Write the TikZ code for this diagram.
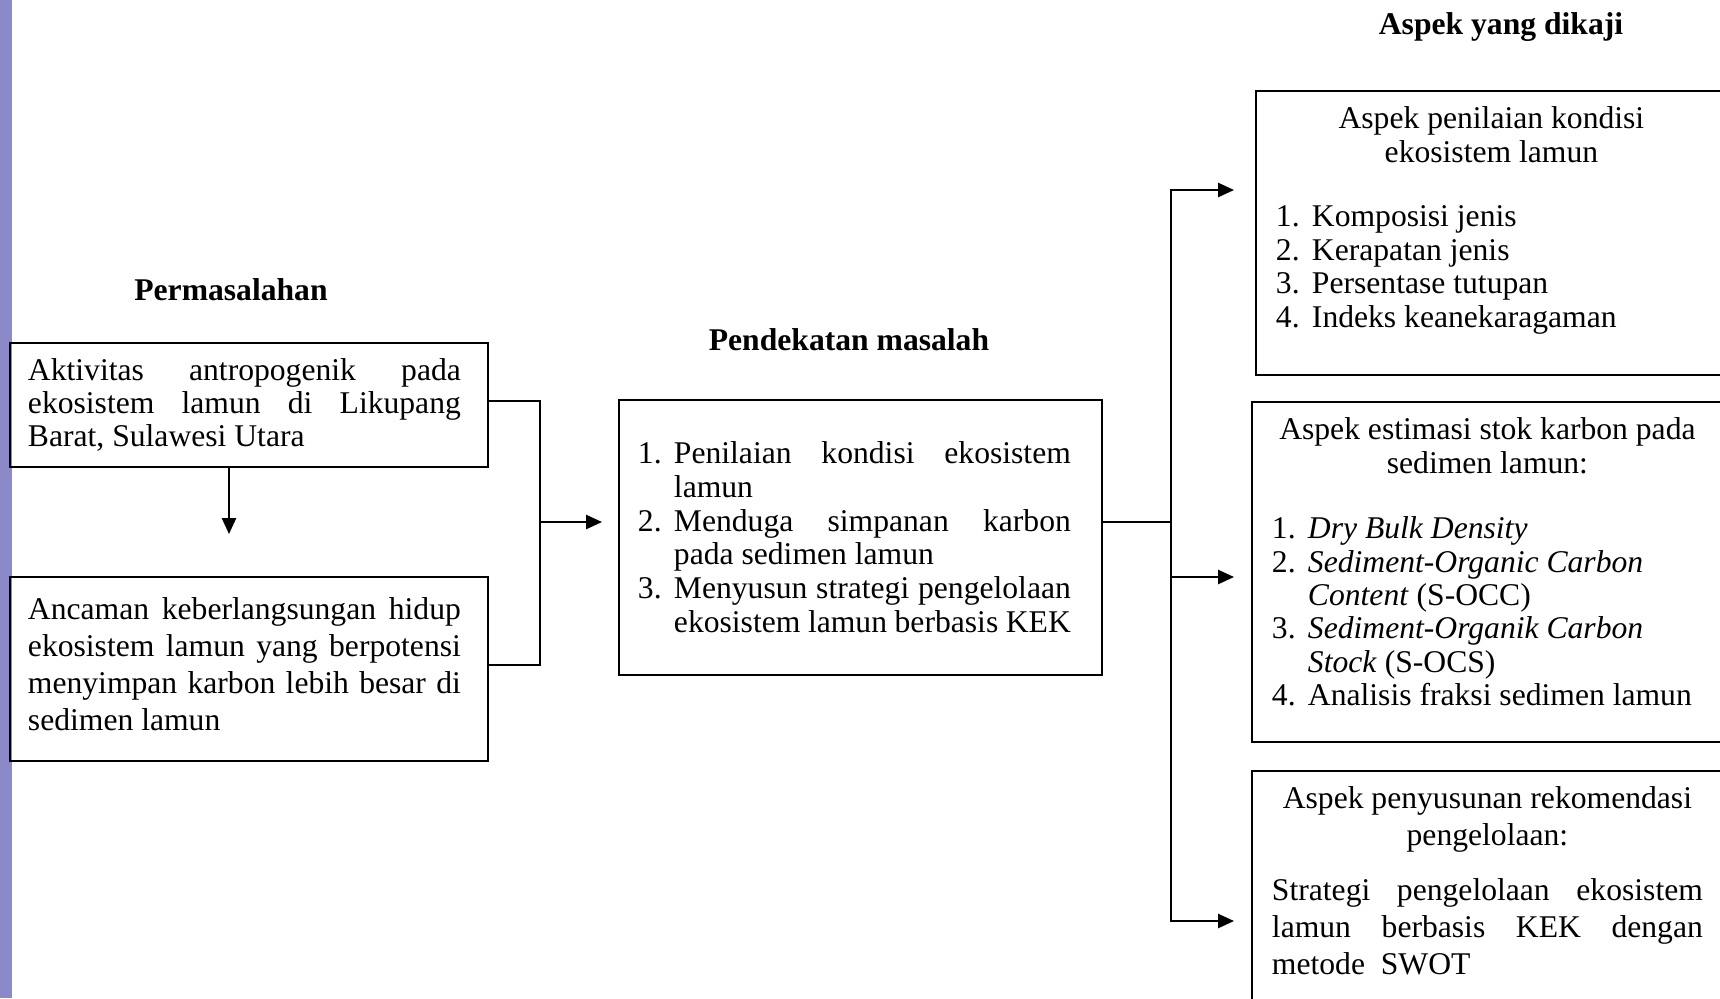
\documentclass[tikz,border=0pt]{standalone}
\usepackage{fontspec}
\setmainfont{Liberation Serif}
\usetikzlibrary{arrows.meta}
\definecolor{barpurple}{RGB}{140,137,200}
\newcommand{\numitem}[2]{\par\hangindent=0.72cm\hangafter=1\noindent\makebox[0.72cm][l]{#1}#2\par}
\newcommand{\boxend}[1]{\par\vspace{#1}\hrule height 0pt}
\hyphenpenalty=10000
\tolerance=10000

\begin{document}
\begin{tikzpicture}[
			x=0.02cm, y=-0.02cm,
			box/.style={draw=black, line width=1.1pt, inner xsep=0.36cm, inner ysep=0.2cm, align=justify, font=\fontsize{18pt}{18.8pt}\selectfont},
			aspekbox/.style={box, anchor=north west, text width=8.62cm, inner xsep=0.4cm, inner ysep=0.32cm},
			heading/.style={font=\fontsize{18pt}{20pt}\selectfont\bfseries},
			conn/.style={line width=1.1pt},
			arr/.style={line width=1.1pt, -{Triangle[length=9pt,width=8pt]}}
		]
			\useasboundingbox (0,0) rectangle (1720,998);
			\clip (0,0) rectangle (1720,998);
			\fill[barpurple] (0,0) rectangle (12,998);

			\node[heading] (hmasalah) at (231,290) {Permasalahan};
			\node[heading] (hpendekatan) at (849,340) {Pendekatan masalah};
			\node[heading] (haspek) at (1501,27) {Aspek yang dikaji};

			\node[box, anchor=north west, text width=8.84cm, minimum height=2.48cm] (aktivitas) at (9,342)
				{\rightskip=0.18cm Aktivitas antropogenik pada ekosistem lamun di Likupang Barat, Sulawesi Utara\par};
			\node[box, anchor=north west, text width=8.84cm, minimum height=3.68cm, font=\fontsize{18pt}{21pt}\selectfont] (ancaman) at (9,576)
				{\rightskip=0.18cm Ancaman keberlangsungan hidup ekosistem lamun yang berpotensi menyimpan karbon lebih besar di sedimen lamun\boxend{0.2cm}};

			\node[box, anchor=north west, text width=8.9cm, inner xsep=0.38cm, minimum height=5.5cm, font=\fontsize{18pt}{19.2pt}\selectfont] (pendekatan) at (618,399) {%
				\rightskip=0.24cm
				\numitem{1.}{Penilaian kondisi ekosistem lamun}%
				\numitem{2.}{Menduga simpanan karbon pada sedimen lamun}%
				\numitem{3.}{Menyusun strategi pengelolaan ekosistem lamun berbasis KEK}%
				\boxend{0.25cm}};

			% aspek yang dikaji
			\node[aspekbox, font=\fontsize{18pt}{19.2pt}\selectfont] (penilaian) at (1255,90) {%
				{\centering Aspek penilaian kondisi\\ ekosistem lamun\par}%
				\vspace{0.6cm}%
				\numitem{1.}{Komposisi jenis}%
				\numitem{2.}{Kerapatan jenis}%
				\numitem{3.}{Persentase tutupan}%
				\numitem{4.}{Indeks keanekaragaman}%
				\boxend{0.5cm}};
			\node[aspekbox, font=\fontsize{18pt}{19pt}\selectfont] (estimasi) at (1251,401) {%
				{\centering Aspek estimasi stok karbon pada\\ sedimen lamun:\par}%
				\vspace{0.64cm}%
				{\raggedright
				\numitem{1.}{\textit{Dry Bulk Density}}%
				\numitem{2.}{\textit{Sediment-Organic Carbon Content} (S-OCC)}%
				\numitem{3.}{\textit{Sediment-Organik Carbon Stock} (S-OCS)}%
				\numitem{4.}{Analisis fraksi sedimen lamun}}%
				\boxend{0.4cm}};
			\node[aspekbox, font=\fontsize{18pt}{21pt}\selectfont] (rekomendasi) at (1251,770) {%
				{\centering Aspek penyusunan rekomendasi\\ pengelolaan:\par}%
				\vspace{0.36cm}%
				Strategi pengelolaan ekosistem lamun berbasis KEK dengan metode\ \ SWOT%
				\boxend{1.5cm}};

			\coordinate (dn) at (229,534);
			\coordinate (brk) at (540,522);
			\coordinate (jn) at (1171,522);
			\coordinate (in1) at (1234,190);
			\coordinate (in2) at (1234,577);
			\coordinate (in3) at (1234,921);

			\draw[arr] (aktivitas.south -| dn) -- (dn);
			\draw[conn] ([yshift=2.3pt]aktivitas.east) -| (brk) |- ([yshift=2.3pt]ancaman.east);
			\draw[arr, shorten >=0.32cm] (brk) -- (pendekatan.west |- brk);
			\draw[conn] (pendekatan.east |- jn) -- (jn);
			\draw[arr] (jn) |- (in1);
			\draw[arr] (jn) |- (in2);
			\draw[arr] (jn) |- (in3);
		\end{tikzpicture}
\end{document}
